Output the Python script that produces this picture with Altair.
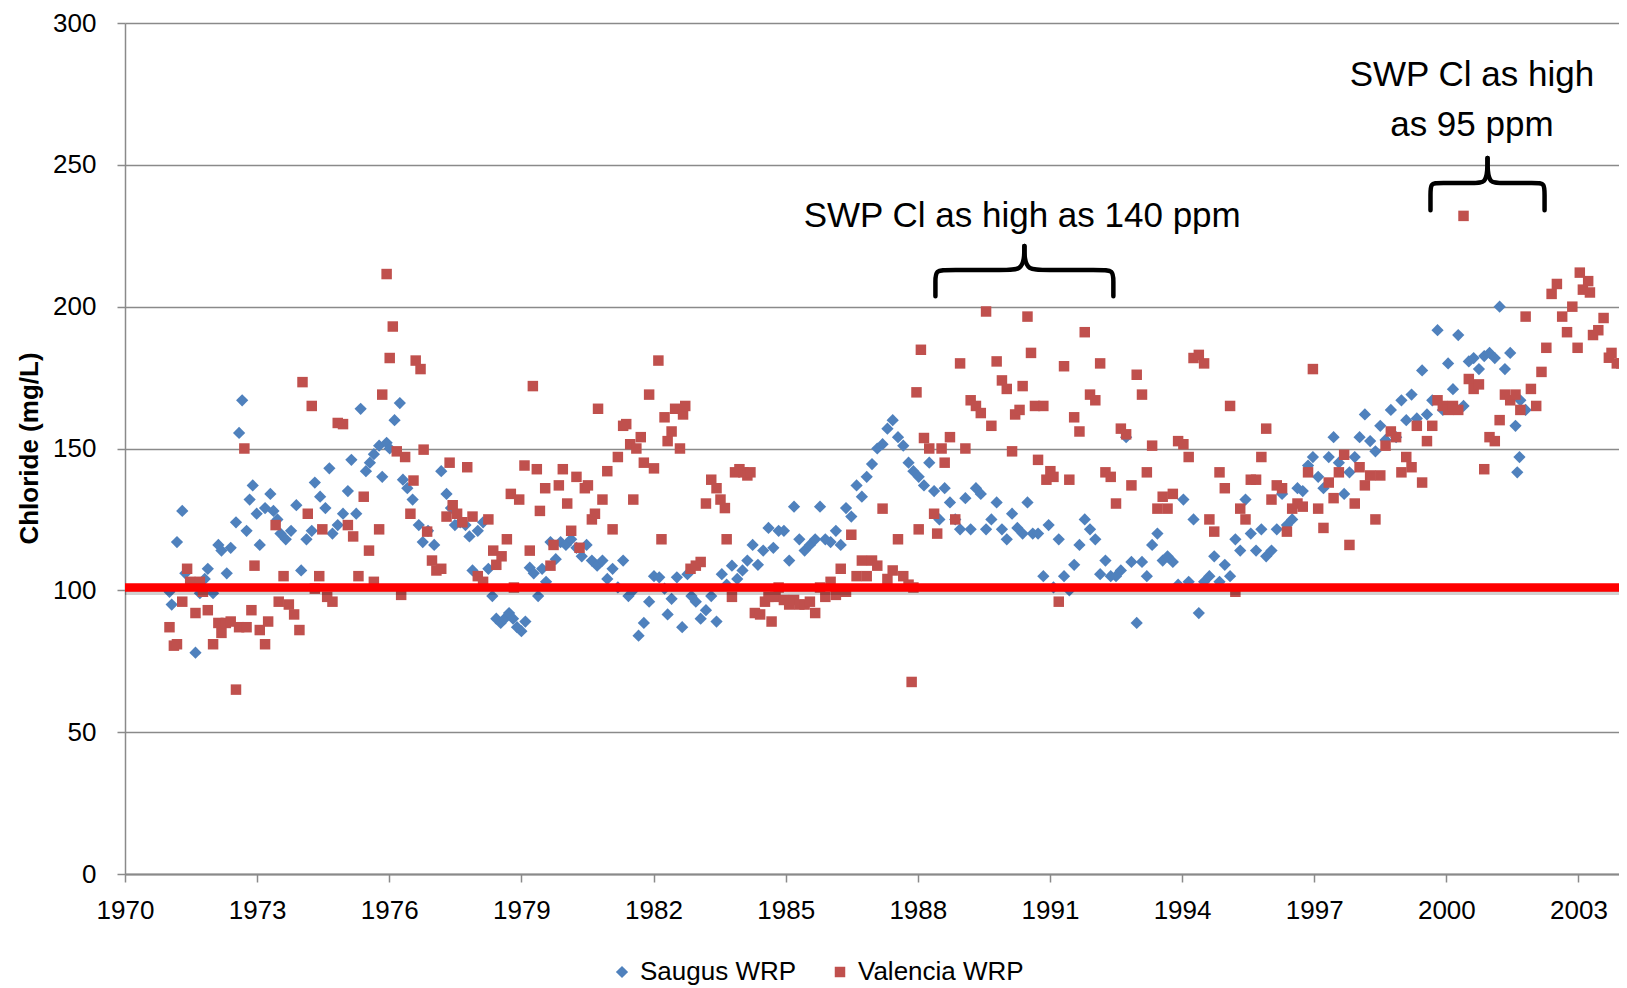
import altair as alt
import pandas as pd

# ---------------- data ----------------
saugus_year = [1971.01, 1971.06, 1971.18, 1971.30, 1971.37, 1971.48, 1971.60, 1971.70, 1971.81, 1971.88,
               1972.00, 1972.12, 1972.19, 1972.31, 1972.40, 1972.52, 1972.59, 1972.66, 1972.76, 1972.83,
               1972.90, 1972.99, 1973.06, 1973.18, 1973.30, 1973.37, 1973.46, 1973.53, 1973.65, 1973.77,
               1973.89, 1974.00, 1974.12, 1974.24, 1974.31, 1974.43, 1974.55, 1974.64, 1974.71, 1974.83,
               1974.95, 1975.06, 1975.14, 1975.25, 1975.35, 1975.47, 1975.56, 1975.65, 1975.77, 1975.84,
               1975.94, 1976.01, 1976.12, 1976.24, 1976.31, 1976.41, 1976.53, 1976.67, 1976.76, 1976.88,
               1977.02, 1977.18, 1977.30, 1977.40, 1977.49, 1977.61, 1977.73, 1977.82, 1977.89, 1978.01,
               1978.13, 1978.25, 1978.34, 1978.43, 1978.53, 1978.62, 1978.72, 1978.81, 1978.90, 1979.00,
               1979.09, 1979.19, 1979.28, 1979.38, 1979.47, 1979.56, 1979.66, 1979.78, 1979.89, 1980.01,
               1980.13, 1980.25, 1980.37, 1980.48, 1980.60, 1980.72, 1980.84, 1980.95, 1981.07, 1981.19,
               1981.31, 1981.43, 1981.54, 1981.66, 1981.78, 1981.90, 1982.01, 1982.13, 1982.25, 1982.32,
               1982.41, 1982.53, 1982.65, 1982.77, 1982.86, 1982.96, 1983.07, 1983.19, 1983.31, 1983.43,
               1983.55, 1983.66, 1983.78, 1983.90, 1984.02, 1984.13, 1984.25, 1984.37, 1984.49, 1984.61,
               1984.72, 1984.84, 1984.96, 1985.08, 1985.19, 1985.31, 1985.43, 1985.55, 1985.67, 1985.78,
               1985.90, 1986.02, 1986.14, 1986.25, 1986.37, 1986.49, 1986.61, 1986.73, 1986.84, 1986.96,
               1987.08, 1987.20, 1987.31, 1987.43, 1987.55, 1987.67, 1987.79, 1987.90, 1988.02, 1988.14,
               1988.26, 1988.37, 1988.49, 1988.61, 1988.73, 1988.85, 1988.96, 1989.08, 1989.20, 1989.32,
               1989.43, 1989.55, 1989.67, 1989.79, 1989.91, 1990.02, 1990.14, 1990.26, 1990.38, 1990.49,
               1990.61, 1990.73, 1990.85, 1990.97, 1991.08, 1991.20, 1991.32, 1991.44, 1991.55, 1991.67,
               1991.79, 1991.91, 1992.03, 1992.14, 1992.26, 1992.38, 1992.50, 1992.61, 1992.73, 1992.85,
               1992.97, 1993.09, 1993.20, 1993.32, 1993.44, 1993.56, 1993.67, 1993.79, 1993.91, 1994.03,
               1994.15, 1994.26, 1994.38, 1994.50, 1994.62, 1994.73, 1994.85, 1994.97, 1995.09, 1995.21,
               1995.32, 1995.44, 1995.56, 1995.68, 1995.80, 1995.91, 1996.03, 1996.15, 1996.27, 1996.38,
               1996.50, 1996.62, 1996.74, 1996.86, 1996.97, 1997.09, 1997.21, 1997.33, 1997.44, 1997.56,
               1997.68, 1997.80, 1997.92, 1998.03, 1998.15, 1998.27, 1998.39, 1998.50, 1998.62, 1998.74,
               1998.86, 1998.98, 1999.09, 1999.21, 1999.33, 1999.45, 1999.56, 1999.68, 1999.80, 1999.92,
               2000.04, 2000.15, 2000.27, 2000.39, 2000.51, 2000.62, 2000.74, 2000.86, 2000.98, 2001.10,
               2001.21, 2001.33, 2001.45, 2001.57, 2001.68, 2001.80, 2001.61, 2001.66]
saugus_cl = [99.5, 95, 117, 128, 106, 102, 78, 99, 104, 107.6,
             99, 116, 114, 106, 115, 124, 155.5, 167, 121, 132,
             137, 127, 116, 129, 134, 128, 125, 120, 118, 121,
             130, 107, 118, 121, 138, 133, 129, 143, 120, 123,
             127, 135, 146, 127, 164, 142, 145, 148, 151, 140,
             152, 150, 160, 166, 139, 136, 132, 123, 117, 121,
             116, 142, 134, 129, 123, 124, 123, 119, 107, 121,
             124, 107.6, 98, 90, 88.5, 90, 92, 90, 87, 85.6,
             89, 108, 106, 98, 107.6, 103, 117, 111, 117, 116,
             118, 115, 112, 116, 110.5, 108.7, 110.5, 104, 107.6, 101,
             110.5, 98, 100, 84, 88.5, 96, 105, 104.6, 100.6, 91.5,
             97, 104.6, 87, 105.7, 98, 96, 90, 93, 98, 89,
             105.7, 102, 108.7, 104, 107, 110.5, 116, 109, 114, 122,
             115, 121, 121, 110.5, 129.5, 118, 114, 116, 118, 129.5,
             118, 117, 121, 116, 129, 126, 137, 133, 140, 144.5,
             150, 151.5, 157, 160, 154, 151, 145, 142, 140, 137,
             145, 135, 125, 136, 131, 125, 121.5, 132.5, 121.5, 136,
             134, 121.5, 125, 131, 121.5, 118, 127, 122, 120, 131,
             120, 120, 105, 123, 101, 118, 105, 100, 109, 116,
             125, 121.5, 118, 105.7, 110.5, 105, 105, 107, 154, 110,
             88.5, 110, 105, 116, 120, 110.5, 112, 110, 102, 132,
             103, 125, 92, 103, 105, 112, 103, 109, 105, 118,
             114, 132, 120, 114, 121.5, 112, 114, 121.5, 134, 123,
             125, 136, 135, 144, 147, 140, 136, 147, 154, 145,
             134, 141.6, 147, 154, 162, 152.6, 149, 158, 153, 163.6,
             154, 167, 160, 169, 160.6, 177.5, 162, 167, 191.7, 163.6,
             180, 170.9, 190, 165, 180.7, 181.9, 178, 182.6, 183.7, 181.9,
             200, 178, 183.7, 158, 167, 163.6, 141.6, 147]

valencia_year = [1971.01, 1971.11, 1971.18, 1971.30, 1971.41, 1971.48, 1971.60, 1971.70, 1971.77, 1971.88,
                 1972.00, 1972.12, 1972.19, 1972.29, 1972.40, 1972.52, 1972.59, 1972.71, 1972.76, 1972.87,
                 1972.94, 1973.06, 1973.18, 1973.25, 1973.42, 1973.49, 1973.60, 1973.72, 1973.84, 1973.96,
                 1974.03, 1974.15, 1974.24, 1974.31, 1974.41, 1974.48, 1974.59, 1974.71, 1974.83, 1974.95,
                 1975.06, 1975.18, 1975.30, 1975.42, 1975.54, 1975.65, 1975.77, 1975.84, 1975.94, 1976.01,
                 1976.08, 1976.17, 1976.27, 1976.36, 1976.48, 1976.55, 1976.60, 1976.71, 1976.78, 1976.86,
                 1976.97, 1977.07, 1977.18, 1977.30, 1977.37, 1977.44, 1977.54, 1977.66, 1977.77, 1977.89,
                 1978.01, 1978.13, 1978.25, 1978.36, 1978.43, 1978.55, 1978.67, 1978.76, 1978.83, 1978.95,
                 1979.07, 1979.19, 1979.26, 1979.35, 1979.42, 1979.54, 1979.66, 1979.73, 1979.85, 1979.94,
                 1980.04, 1980.13, 1980.25, 1980.32, 1980.44, 1980.51, 1980.60, 1980.67, 1980.74, 1980.84,
                 1980.95, 1981.07, 1981.19, 1981.31, 1981.38, 1981.47, 1981.54, 1981.61, 1981.71, 1981.78,
                 1981.90, 1982.01, 1982.11, 1982.18, 1982.25, 1982.32, 1982.41, 1982.49, 1982.60, 1982.67,
                 1982.72, 1982.84, 1982.96, 1983.07, 1983.19, 1983.31, 1983.43, 1983.52, 1983.62, 1983.66,
                 1983.78, 1983.85, 1983.95, 1984.04, 1984.13, 1984.20, 1984.30, 1984.42, 1984.53, 1984.61,
                 1984.68, 1984.77, 1984.84, 1984.96, 1985.08, 1985.19, 1985.31, 1985.43, 1985.55, 1985.67,
                 1985.78, 1985.90, 1986.02, 1986.14, 1986.25, 1986.37, 1986.49, 1986.61, 1986.73, 1986.84,
                 1986.96, 1987.08, 1987.20, 1987.31, 1987.43, 1987.55, 1987.67, 1987.79, 1987.90, 1988.02,
                 1987.86, 1987.97, 1988.07, 1988.14, 1988.26, 1988.37, 1988.44, 1988.54, 1988.61, 1988.73,
                 1988.85, 1988.96, 1989.08, 1989.20, 1989.32, 1989.43, 1989.55, 1989.67, 1989.79, 1989.91,
                 1990.02, 1990.14, 1990.21, 1990.31, 1990.38, 1990.49, 1990.57, 1990.66, 1990.73, 1990.85,
                 1990.92, 1991.01, 1991.08, 1991.20, 1991.32, 1991.44, 1991.55, 1991.67, 1991.79, 1991.91,
                 1992.03, 1992.14, 1992.26, 1992.38, 1992.50, 1992.61, 1992.73, 1992.85, 1992.97, 1993.09,
                 1993.20, 1993.32, 1993.44, 1993.56, 1993.67, 1993.79, 1993.91, 1994.03, 1994.15, 1994.26,
                 1994.38, 1994.50, 1994.62, 1994.73, 1994.85, 1994.97, 1995.09, 1995.21, 1995.32, 1995.44,
                 1995.56, 1995.68, 1995.80, 1995.91, 1996.03, 1996.15, 1996.27, 1996.38, 1996.50, 1996.62,
                 1996.74, 1996.86, 1996.97, 1997.09, 1997.21, 1997.33, 1997.44, 1997.56, 1997.68, 1997.80,
                 1997.92, 1998.03, 1998.15, 1998.27, 1998.39, 1998.50, 1998.62, 1998.74, 1998.86, 1998.98,
                 1999.09, 1999.21, 1999.33, 1999.45, 1999.56, 1999.68, 1999.80, 1999.92, 2000.04, 2000.15,
                 2000.27, 2000.39, 2000.51, 2000.62, 2000.74, 2000.86, 2000.98, 2001.10, 2001.21, 2001.33,
                 2001.45, 2001.57, 2001.68, 2001.80, 2001.92, 2002.04, 2002.16, 2002.27, 2002.39, 2002.51,
                 2002.63, 2002.74, 2002.86, 2002.98, 2003.03, 2003.10, 2003.22, 2003.26, 2003.33, 2003.45,
                 2003.57, 2003.69, 2003.75, 2003.87, 2003.97]
valencia_cl = [87, 80.5, 81, 96, 107.6, 103, 92, 103, 99.5, 93,
               81, 88.5, 85, 88.5, 89, 65, 87, 150, 87, 93,
               108.7, 86, 81, 89, 123, 96, 105, 95, 91.5, 86,
               173.4, 127, 165, 100.6, 105, 121.5, 97.7, 96, 159, 158.6,
               123, 119, 105, 133, 114, 103, 121.5, 169, 211.5, 181.9,
               193, 149, 98.4, 147, 127, 138.7, 181, 178, 149.6, 120.7,
               110.5, 107, 107.6, 126, 145, 130, 127, 124, 143.4, 126,
               105, 103, 125, 114, 109, 112, 118, 134, 101, 132,
               144, 114, 172, 142.7, 128, 136, 108.7, 116, 137, 142.7,
               130.6, 121, 140, 115, 136, 137, 125, 127, 164, 132,
               142, 121.5, 147, 158, 158.6, 151.5, 132, 150, 154, 145,
               169, 143, 181, 118, 161, 152.6, 156, 164, 150, 162,
               165, 107.6, 108.7, 110, 130.6, 139, 136, 132, 129, 118,
               97.7, 141.6, 142.7, 141.6, 140.5, 141.6, 92, 91.5, 96, 97.7,
               89, 97.7, 101, 96.6, 95, 96.6, 95, 95, 96, 92,
               101, 97.7, 103, 98.4, 107.6, 99.5, 119.6, 105, 110.5, 105,
               110.5, 108.7, 128.8, 104, 107, 118, 105, 102, 101, 121.5,
               67.7, 169.8, 184.8, 153.7, 150, 127, 120, 150, 145, 154,
               125, 180, 150, 167, 165, 162.5, 198.3, 158, 180.7, 174,
               171, 149, 162, 163.6, 172, 196.5, 183.7, 165, 146, 165,
               139, 142, 140, 96, 179, 139, 161, 156, 191, 169,
               167, 180, 141.6, 140, 130.6, 157, 155, 137, 176, 169,
               141.6, 151, 128.8, 133, 128.8, 134, 152.6, 151.5, 147, 181.9,
               183, 180, 125, 120.7, 141.6, 136, 165, 99.5, 128.8, 125,
               139, 139, 147, 157, 132, 137, 136, 120.7, 128.8, 130.6,
               129.5, 141.6, 178, 128.8, 122, 138, 132.5, 141.6, 147.8, 116,
               130.6, 143.4, 137, 140.5, 125, 140.5, 151, 156, 154, 141.6,
               147, 143.4, 158, 138, 152.6, 158, 167, 165, 163.6, 165,
               163.6, 232, 174.5, 171, 172.6, 142.7, 154, 152.6, 160, 169,
               167, 169, 163.6, 196.5, 171, 165, 177, 185.5, 204.5, 208,
               196.5, 191, 200, 185.5, 212, 206, 209, 205, 190, 191.7,
               196, 182, 183.7, 180, 180]

series_names = ["Saugus WRP", "Valencia WRP"]
series_colors = ["#4F81BD", "#C0504D"]
series_shapes = ["diamond", "square"]

x_tick_values = [1970, 1973, 1976, 1979, 1982, 1985, 1988, 1991, 1994, 1997, 2000, 2003]
y_tick_values = [0, 50, 100, 150, 200, 250, 300]
x_domain = [1970, 2003.92]
y_domain = [0, 300]

target_level = [101]

# annotations (text, year, value)
note_texts = ["SWP Cl as high as 140 ppm", "SWP Cl as high\nas 95 ppm"]
note_year = [1990.37, 2000.58]
note_value = [232.0, 281.5]

# braces: left end year, right end year, value at ends, value at tip
brace_x0 = [1988.40, 1999.64]
brace_x1 = [1992.44, 2002.23]
brace_base = [203.7, 234.0]
brace_tip = [221.4, 252.4]
# half-brace outline in unit fractions (u along span, v from end to tip)
brace_u = [0.0, 0.0, 0.0, 0.07, 0.40, 0.48, 0.5, 0.5]
brace_v = [0.0, 0.3, 0.52, 0.52, 0.52, 0.53, 0.75, 1.0]

FONT = "Liberation Sans, Arial, sans-serif"

# ---------------- tables ----------------
points = pd.DataFrame({
    "year": saugus_year + valencia_year,
    "cl": saugus_cl + valencia_cl,
    "series": [series_names[0]] * len(saugus_year) + [series_names[1]] * len(valencia_year),
})

notes = pd.DataFrame({"year": note_year, "cl": note_value, "text": note_texts})

brace_rows = []
for b in range(len(brace_x0)):
    span = brace_x1[b] - brace_x0[b]
    depth = brace_tip[b] - brace_base[b]
    for k, (u, v) in enumerate(zip(brace_u, brace_v)):
        brace_rows.append({"piece": f"{b}L", "k": k, "year": brace_x0[b] + u * span,
                           "cl": brace_base[b] + v * depth})
        brace_rows.append({"piece": f"{b}R", "k": k, "year": brace_x1[b] - u * span,
                           "cl": brace_base[b] + v * depth})
braces = pd.DataFrame(brace_rows)

x_scale = alt.Scale(domain=x_domain, nice=False, zero=False)
y_scale = alt.Scale(domain=y_domain, nice=False, zero=True)

x_axis = alt.Axis(values=x_tick_values, format="d", grid=False, title=None,
                  tickSize=8, tickColor="#8a8a8a", tickWidth=1.5,
                  domainColor="#8a8a8a", domainWidth=2,
                  labelFont=FONT, labelFontSize=26, labelColor="#000000",
                  labelPadding=15, labelFlush=False)
y_axis = alt.Axis(values=y_tick_values, grid=True, gridColor="#8a8a8a", gridWidth=1.5,
                  tickSize=8, tickColor="#8a8a8a", tickWidth=1.5,
                  domainColor="#8a8a8a", domainWidth=1.5,
                  labelFont=FONT, labelFontSize=26, labelColor="#000000", labelPadding=21,
                  title="Chloride (mg/L)", titleFont=FONT, titleFontSize=26,
                  titleFontWeight="bold", titleColor="#000000",
                  titleAngle=270, titleX=-96, titleY=425, titleAlign="center",
                  titleBaseline="middle")

pts = alt.Chart(points).mark_point(filled=True, opacity=1, strokeWidth=0).encode(
    x=alt.X("year:Q", scale=x_scale, axis=x_axis),
    y=alt.Y("cl:Q", scale=y_scale, axis=y_axis),
    color=alt.Color("series:N", scale=alt.Scale(domain=series_names, range=series_colors),
                    legend=alt.Legend(title=None, orient="none", legendX=484, legendY=936,
                                      direction="horizontal", columns=2,
                                      labelFont=FONT, labelFontSize=26, labelColor="#000000",
                                      labelLimit=0, symbolSize=70, labelOffset=5,
                                      columnPadding=30)),
    shape=alt.Shape("series:N", scale=alt.Scale(domain=series_names, range=series_shapes),
                    legend=None),
    size=alt.Size("series:N", scale=alt.Scale(domain=series_names, range=[150, 110]), legend=None),
)

shadow = alt.Chart(pd.DataFrame({"v": target_level})).mark_rule(
    color="#000000", opacity=0.18, strokeWidth=9).encode(
    y=alt.Y("v:Q", scale=y_scale), yOffset=alt.value(3))

red_line = alt.Chart(pd.DataFrame({"v": target_level})).mark_rule(
    color="#FF0000", strokeWidth=8.5).encode(y=alt.Y("v:Q", scale=y_scale))

brace_lines = alt.Chart(braces).mark_line(color="#000000", strokeWidth=4.5,
                                          interpolate="basis", strokeCap="round").encode(
    x=alt.X("year:Q", scale=x_scale),
    y=alt.Y("cl:Q", scale=y_scale),
    detail="piece:N",
    order="k:Q",
)

note_text = alt.Chart(notes).mark_text(font=FONT, fontSize=35, color="#000000",
                                       align="center", baseline="middle",
                                       lineBreak="\n", lineHeight=50).encode(
    x=alt.X("year:Q", scale=x_scale),
    y=alt.Y("cl:Q", scale=y_scale),
    text="text:N",
)

chart = alt.layer(pts, shadow, red_line, brace_lines, note_text).properties(
    width=1494, height=851,
    autosize=alt.AutoSizeParams(type="none"),
    padding={"left": 117, "top": 15, "right": 0, "bottom": 114},
    background="#ffffff",
).configure_view(stroke=None)

chart.save("out.html", embed_options={"renderer": "svg", "actions": False})
